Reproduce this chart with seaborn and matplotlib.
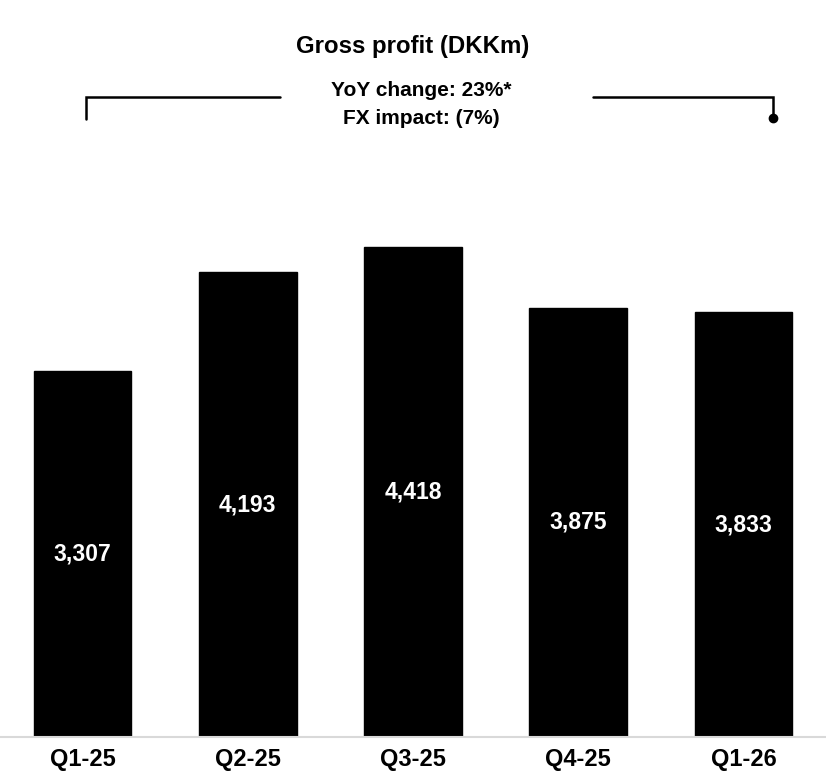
import pandas as pd
import seaborn as sns
from matplotlib import pyplot as plt
from matplotlib.lines import Line2D

quarters = ["Q1-25", "Q2-25", "Q3-25", "Q4-25", "Q1-26"]
gross_profit = [3307, 4193, 4418, 3875, 3833]
title = "Gross profit (DKKm)"
note_lines = ["YoY change: 23%*", "FX impact: (7%)"]

df = pd.DataFrame({"quarter": quarters, "value": gross_profit})

sns.set_style("white")
plt.rcParams['font.family'] = ['Liberation Sans', 'DejaVu Sans']
plt.rcParams['text.color'] = 'black'
plt.rcParams['xtick.color'] = 'black'

W, H = 826, 777
fig = plt.figure(figsize=(W / 100, H / 100), dpi=100)

# axes: bottom at baseline (y=737 px), scale ~0.1108 px per DKKm
bottom_px = 737
top_px = 170
ax = fig.add_axes([0, 1 - bottom_px / H, 1, (bottom_px - top_px) / H])

sns.barplot(data=df, x="quarter", y="value", color="black", saturation=1,
            width=0.59, ax=ax, edgecolor="black")

ax.set_xlim(-0.5, len(quarters) - 0.5)
ax.set_ylim(0, (bottom_px - top_px) / 0.1108)
ax.set_xlabel("")
ax.set_ylabel("")
ax.set_yticks([])
for s in ["top", "left", "right"]:
    ax.spines[s].set_visible(False)
ax.spines["bottom"].set_color("#d9d9d9")
ax.spines["bottom"].set_linewidth(1.5)
ax.tick_params(axis="x", length=0, pad=8, colors="black")
for lab in ax.get_xticklabels():
    lab.set_fontsize(17)
    lab.set_fontweight("bold")

for i, v in enumerate(gross_profit):
    ax.text(i, v / 2, f"{v:,}", color="white", ha="center", va="center",
            fontsize=16.5, fontweight="bold")

fig.text(0.5, 1 - 47 / H, title, ha="center", va="center",
         fontsize=17.3, fontweight="bold")
note_x = 421 / W
fig.text(note_x, 1 - 91 / H, note_lines[0], ha="center", va="center",
         fontsize=15, fontweight="bold")
fig.text(note_x, 1 - 118 / H, note_lines[1], ha="center", va="center",
         fontsize=15, fontweight="bold")


def px(x, y):
    return x / W, 1 - y / H


# bracket
lw = 1.8
xs, ys = zip(px(86, 119), px(86, 97), px(280, 97))
fig.add_artist(Line2D(xs, ys, color="black", lw=lw, solid_joinstyle="miter"))
xs, ys = zip(px(593, 97), px(773, 97), px(773, 117))
fig.add_artist(Line2D(xs, ys, color="black", lw=lw, solid_joinstyle="miter"))
dx, dy = px(773, 118)
fig.add_artist(Line2D([dx], [dy], marker="o", markersize=6, color="black"))

fig.savefig("out.png", dpi=100)
